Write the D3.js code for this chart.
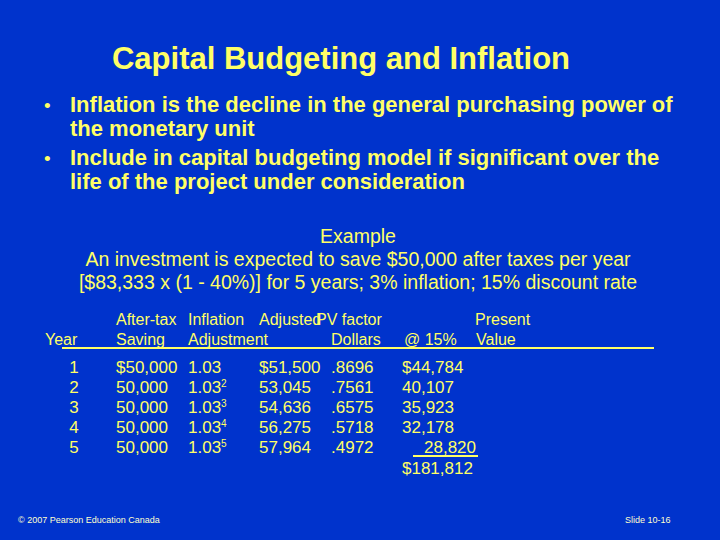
<!DOCTYPE html>
<html><head><meta charset="utf-8">
<script src="https://cdn.jsdelivr.net/npm/d3@7"></script>
<style>body{margin:0;background:#0033cc}</style></head>
<body><script>
const years = ["1", "2", "3", "4", "5"];
const savings = ["$50,000", "50,000", "50,000", "50,000", "50,000"];
const inflExp = ["", "2", "3", "4", "5"];
const adjusted = ["$51,500", "53,045", "54,636", "56,275", "57,964"];
const pvFactor = [".8696", ".7561", ".6575", ".5718", ".4972"];
const presentValue = ["$44,784", "40,107", "35,923", "32,178", "28,820"];
const total = "$181,812";
const bullets = [
	["Inflation is the decline in the general purchasing power of", "the monetary unit"],
	["Include in capital budgeting model if significant over the", "life of the project under consideration"]
];
const example = ["Example",
	"An investment is expected to save $50,000 after taxes per year",
	"[$83,333 x (1 - 40%)] for 5 years; 3% inflation; 15% discount rate"];

const W = 720, H = 540, yellow = "#ffff66";
const svg = d3.select("body").append("svg").attr("width", W).attr("height", H)
	.style("font-family", "'Liberation Sans', Arial, sans-serif");
svg.append("rect").attr("width", W).attr("height", H).attr("fill", "#0033cc");

svg.append("text").attr("x", 341).attr("y", 69).attr("text-anchor", "middle")
	.attr("font-size", 31).attr("font-weight", "bold").attr("fill", yellow).text("Capital Budgeting and Inflation");

// bullets
const by = [112, 165];
bullets.forEach((b, i) => {
	svg.append("text").attr("x", 44).attr("y", by[i]).attr("font-size", 19).attr("fill", yellow).text("•");
	b.forEach((line, j) => {
		svg.append("text").attr("x", 70).attr("y", by[i] + j * 24).attr("font-size", 22)
			.attr("font-weight", "bold").attr("fill", yellow).text(line);
	});
});

// example
example.forEach((t, i) => {
	svg.append("text").attr("x", 358).attr("y", 243 + i * 23).attr("text-anchor", "middle")
		.attr("font-size", 19.5).attr("fill", yellow).text(t);
});

// table
const cols = { year: 74, sav: 116, inf: 188, adj: 259, pv: 331, prv: 402 };
const row = d3.scaleBand().domain(years).range([358, 458]);
const g = svg.append("g").attr("font-size", 17).attr("fill", yellow);
const hdr = [[45, 345, "Year"], [116, 325, "After-tax"], [116, 345, "Saving"], [188, 325, "Inflation"],
	[188, 345, "Adjustment"], [259, 325, "Adjusted"], [316, 325, "PV factor"], [331, 345, "Dollars"],
	[404, 345, "@ 15%"], [475, 325, "Present"], [476, 345, "Value"]];
hdr.forEach(h => g.append("text").attr("x", h[0]).attr("y", h[1]).attr("font-size", 16).text(h[2]));
g.append("line").attr("x1", 62).attr("x2", 654).attr("y1", 348).attr("y2", 348)
	.attr("stroke", yellow).attr("stroke-width", 2);

const rows = g.selectAll("g.row").data(years).enter().append("g")
	.attr("transform", d => `translate(0,${row(d) + 15})`);
rows.append("text").attr("x", cols.year).attr("text-anchor", "middle").text(d => d);
rows.append("text").attr("x", cols.sav).text((d, i) => savings[i]);
const inf = rows.append("text").attr("x", cols.inf).text("1.03");
inf.append("tspan").attr("dy", -6).attr("font-size", 10).text((d, i) => inflExp[i]);
rows.append("text").attr("x", cols.adj).text((d, i) => adjusted[i]);
rows.append("text").attr("x", cols.pv).text((d, i) => pvFactor[i]);
rows.append("text").attr("x", (d, i) => i === 4 ? cols.prv + 22 : cols.prv).text((d, i) => presentValue[i]);
g.append("line").attr("x1", 413).attr("x2", 478).attr("y1", 456).attr("y2", 456)
	.attr("stroke", yellow).attr("stroke-width", 2);
g.append("text").attr("x", cols.prv).attr("y", 474).text(total);

// footer
svg.append("text").attr("x", 18).attr("y", 523).attr("font-size", 9).attr("fill", "#ffffcc")
	.text("© 2007 Pearson Education Canada");
svg.append("text").attr("x", 625).attr("y", 523).attr("font-size", 9).attr("fill", "#ffffcc")
	.text("Slide 10-16");
</script></body></html>
